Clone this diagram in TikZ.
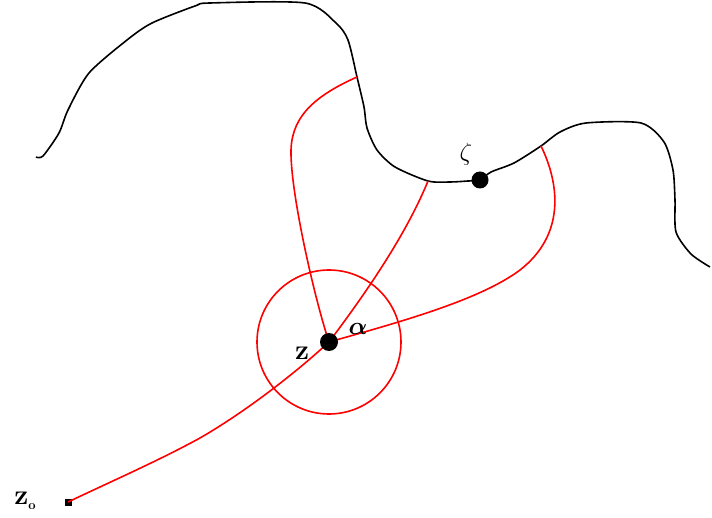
\documentclass[tikz,border=0pt]{standalone}
\usepackage{amsmath}
\begin{document}
\begin{tikzpicture}[x=1pt,y=-1pt,
  bound/.style={black,line width=1.6pt,line join=round},
  ray/.style={red,line width=1.6pt,line join=round},
  bigdot/.style={circle,fill=black,inner sep=0pt,minimum size=18pt},
  smalldot/.style={rectangle,fill=black,inner sep=0pt,minimum size=7pt},
  lbl/.style={font=\fontsize{28}{28}\selectfont\bfseries,inner sep=0pt}]
\useasboundingbox (0,0) rectangle (712,518);
\coordinate (zc) at (329,342);
\coordinate (b1) at (357,77);
\coordinate (b2) at (428,181);
\coordinate (b3) at (541,146);
% boundary curve
\draw[bound] plot[smooth,tension=0.45] coordinates {(36,157) (43,156) (59,133) (68,110) (89,73) (127,40) (152,23) (195,6) (210,3) (305,3) (336,23) (348,40) (b1) (364,107) (367,128) (377,150) (395,167) (b2) (450,182) (468,181) (480,180) (491,172) (514,163) (b3) (560,132) (586,123) (641,123) (664,142) (673,170) (675,200) (676,232) (691,254) (710,267)};
% red curves
\draw[ray] (b1) .. controls (310,98) and (290,120) .. (291,155) .. controls (292,200) and (315,300) .. (zc);
\draw[ray] (b2) .. controls (408,230) and (372,285) .. (zc);
\draw[ray] (b3) .. controls (560,185) and (565,235) .. (520,270) .. controls (480,300) and (400,322) .. (zc);
\draw[ray] (zc) circle[radius=72];
\node[smalldot] (z0) at (68,502) {};
\draw[ray] (zc) .. controls (290,378) and (240,415) .. (200,438) .. controls (160,460) and (110,482) .. (z0.center);
% dots
\node[bigdot] (z) at (zc) {};
\node[bigdot,minimum size=17pt] (zeta) at (480,180) {};
% labels
\node[lbl] (lz) at (302,353) {z};
\node[lbl] (la) at (358,329) {$\boldsymbol{\alpha}$};
\node[lbl] (lzeta) at (466,154) {$\zeta$};
\node[lbl] (lz0) at (25,501) {z\raisebox{-5pt}{\fontsize{13}{13}\selectfont o}};
\end{tikzpicture}
\end{document}
